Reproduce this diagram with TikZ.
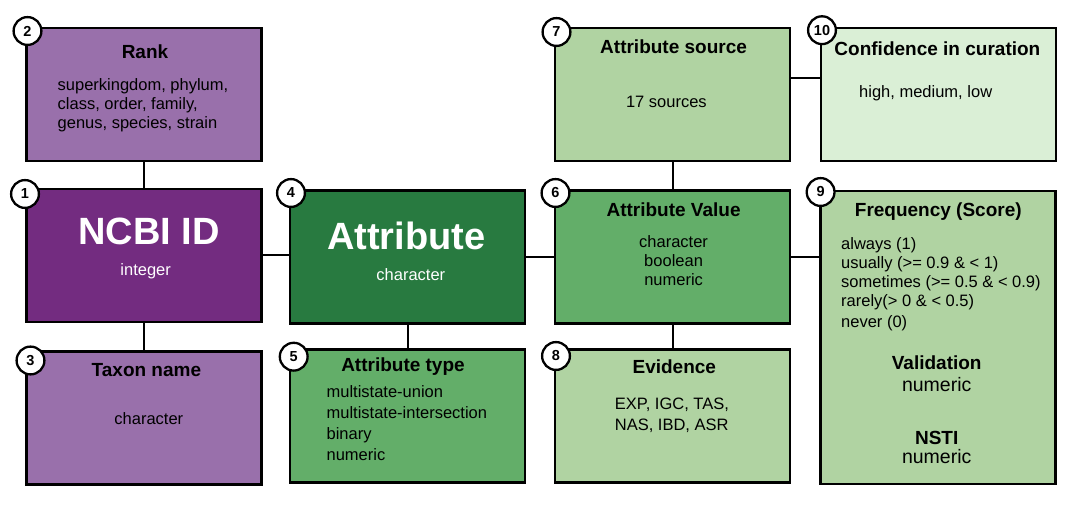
\documentclass[tikz,border=0pt]{standalone}
\usepackage{fontspec}
\setmainfont{Liberation Sans}
\usepackage{tikz}

\definecolor{purpledark}{HTML}{732C80}
\definecolor{purplelight}{HTML}{9970AB}
\definecolor{greendark}{HTML}{287A40}
\definecolor{greenmid}{HTML}{63AE69}
\definecolor{greenlight}{HTML}{B0D3A2}
\definecolor{greenpale}{HTML}{DAEFD6}

\begin{document}
\begin{tikzpicture}[x=1pt, y=-1pt,
  tbox/.style={draw=black, line width=2.2pt, rectangle, inner sep=0pt,
       minimum width=235pt, minimum height=133pt},
  tnum/.style={draw=black, line width=2.3pt, circle, fill=white, inner sep=0pt,
       minimum size=27.8pt, font=\fontsize{14.5}{15}\selectfont\bfseries},
  ttitle/.style={inner sep=0pt, font=\fontsize{19}{22}\selectfont\bfseries,
       text height=13.6pt, text depth=0pt},
  tbig/.style={inner sep=0pt, text=white, font=\fontsize{38}{44}\selectfont\bfseries},
  tbody/.style={inner sep=0pt, font=\fontsize{16.5}{19}\selectfont},
  tlink/.style={draw=black, line width=2pt}]

\useasboundingbox (0,0) rectangle (1079,510);

\node[tbox, fill=purplelight] (box2) at (144,94.5) {};
\node[tbox, fill=purpledark] (box1) at (144,255.5) {};
\node[tbox, fill=purplelight] (box3) at (144,418) {};
\node[tbox, fill=greendark] (box4) at (407.5,257) {};
\node[tbox, fill=greenmid] (box5) at (407.5,416) {};
\node[tbox, fill=greenlight] (box7) at (672.5,94.5) {};
\node[tbox, fill=greenmid] (box6) at (672.5,257) {};
\node[tbox, fill=greenlight] (box8) at (672.5,416) {};
\node[tbox, fill=greenpale] (box10) at (938.5,94.5) {};
\node[tbox, fill=greenlight, minimum height=293pt] (box9) at (938,337.5) {};

\node[ttitle] (t2) at (145,51.5) {Rank};
\node[tbody, anchor=west, align=left] (b2) at (57.5,105.5)
  {superkingdom, phylum,\\class, order, family,\\genus, species, strain};

\node[tbig] (t1) at (149,231.3) {NCBI ID};
\node[tbody, text=white] (b1) at (145.7,271.7) {integer};

\node[ttitle] (t3) at (146.4,369.3) {Taxon name};
\node[tbody] (b3) at (148.8,418.3) {character};

\node[tbig] (t4) at (406.3,236) {Attribute};
\node[tbody, text=white] (b4) at (410.8,274.3) {character};

\node[ttitle] (t5) at (403,365) {Attribute type};
\node[tbody, anchor=west, align=left, font=\fontsize{16.5}{21}\selectfont] (b5) at (326.4,423.3)
  {multistate-union\\multistate-intersection\\binary\\numeric};

\node[ttitle] (t7) at (673.6,46.7) {Attribute source};
\node[tbody] (b7) at (666.4,102.3) {17 sources};

\node[ttitle] (t10) at (937.4,49) {Confidence in curation};
\node[tbody] (b10) at (925.7,93.3) {high, medium, low};

\node[ttitle] (t6) at (673.6,210) {Attribute Value};
\node[tbody, align=center] (b6) at (673.6,260.4) {character\\boolean\\numeric};

\node[ttitle] (t8) at (674.3,366.7) {Evidence};
\node[tbody, anchor=west, align=left, font=\fontsize{16.5}{21}\selectfont] (b8) at (614.7,414.8)
  {EXP, IGC, TAS,\\NAS, IBD, ASR};

\node[ttitle] (t9) at (938.3,209.3) {Frequency (Score)};
\node[tbody, anchor=west, align=left] (b9) at (841,284.2)
  {always (1)\\usually (>= 0.9 \& < 1)\\sometimes (>= 0.5 \& < 0.9)\\rarely(> 0 \& < 0.5)\\[2.6pt]never (0)};
\node[ttitle] (t9v) at (936.7,362.3) {Validation};
\node[tbody, font=\fontsize{19.5}{22}\selectfont] (b9v) at (936.7,384.3) {numeric};
\node[ttitle] (t9n) at (936.7,437.7) {NSTI};
\node[tbody, font=\fontsize{19.5}{22}\selectfont] (b9n) at (936.7,456.7) {numeric};

\draw[tlink] (box2.south) -- (box1.north);
\draw[tlink] (box1.south) -- (box3.north);
\draw[tlink] (box1.east) -- (box1.east -| box4.west);
\draw[tlink] (box4.south) -- (box5.north);
\draw[tlink] (box4.east) -- (box4.east -| box6.west);
\draw[tlink] (box6.north) -- (box7.south);
\draw[tlink] (box6.south) -- (box8.north);
\draw[tlink] (box6.east) -- (box6.east -| box9.west);
\draw[tlink] (box7.8) -- (box7.8 -| box10.west);

\node[tnum] (c1) at (25,194) {1};
\node[tnum] (c2) at (27.5,31) {2};
\node[tnum] (c3) at (30.5,360.5) {3};
\node[tnum] (c4) at (291,193) {4};
\node[tnum] (c5) at (293.7,356.7) {5};
\node[tnum] (c6) at (555.5,193) {6};
\node[tnum] (c7) at (556.5,32) {7};
\node[tnum] (c8) at (556,356) {8};
\node[tnum] (c9) at (820.6,192) {9};
\node[tnum] (c10) at (822,30.2) {10};
\end{tikzpicture}
\end{document}
